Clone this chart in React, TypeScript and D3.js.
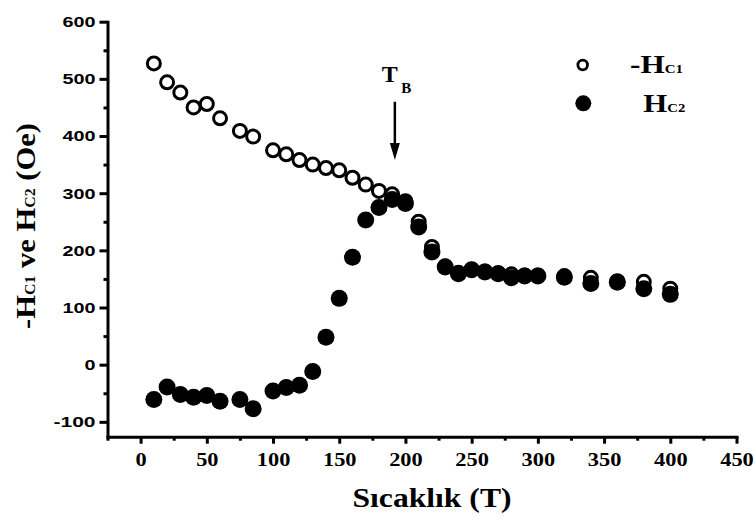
import * as d3 from "d3";
import React, { useEffect, useRef } from "react";

// -Hc1 (open circles)
const tempC1 = [10, 20, 30, 40, 50, 60, 75, 85, 100, 110, 120, 130, 140, 150, 160, 170, 180, 190, 200, 210, 220, 230, 240, 250, 260, 270, 280, 290, 300, 320, 340, 360, 380, 400];
const hc1 = [527, 494, 476, 450, 456, 431, 409, 399, 375, 368, 358, 350, 344, 340, 327, 315, 304, 298, 286, 250, 206, 172, 161, 166, 163, 160, 158, 156, 156, 155, 152, 146, 145, 133];

// Hc2 (filled circles)
const tempC2 = [10, 20, 30, 40, 50, 60, 75, 85, 100, 110, 120, 130, 140, 150, 160, 170, 180, 190, 200, 210, 220, 230, 240, 250, 260, 270, 280, 290, 300, 320, 340, 360, 380, 400];
const hc2 = [-61, -39, -52, -57, -54, -64, -61, -77, -46, -40, -36, -12, 48, 116, 188, 253, 275, 289, 282, 241, 197, 171, 159, 166, 162, 159, 152, 155, 155, 153, 142, 144, 133, 123];

const xMajor = [0, 50, 100, 150, 200, 250, 300, 350, 400, 450];
const xMinor = [-25, 25, 75, 125, 175, 225, 275, 325, 375, 425];
const yMajor = [-100, 0, 100, 200, 300, 400, 500, 600];
const yMinor = [-50, 50, 150, 250, 350, 450, 550];

// T_B arrow: temperature, start value, tip value
const tbTemp = 192;
const tbArrow = [460, 358];

const serif = "'Liberation Serif', 'Times New Roman', serif";
const sans = "'Liberation Sans', Arial, sans-serif";

const x = d3.scaleLinear().domain([-25, 450]).range([107.5, 736.5]);
const y = d3.scaleLinear().domain([-126, 600]).range([436.7, 21.7]);

export default function App() {
  const xRef = useRef<SVGGElement>(null);
  const yRef = useRef<SVGGElement>(null);

  useEffect(() => {
    // x axis: minor ticks, then major ticks with labels
    const gx = d3.select(xRef.current);
    gx.selectAll("*").remove();
    gx.append("g")
      .call(d3.axisBottom(x).tickValues(xMinor).tickSize(4).tickFormat(() => ""))
      .call((g) => g.select(".domain").remove());
    gx.append("g")
      .call(d3.axisBottom(x).tickValues(xMajor).tickSizeInner(7).tickSizeOuter(0).tickPadding(9.5).tickFormat(d3.format("d")));
    gx.selectAll("line").attr("stroke", "#000").attr("stroke-width", 3);
    gx.selectAll(".domain").attr("stroke", "#000").attr("stroke-width", 3).attr("stroke-linecap", "square");
    gx.selectAll("text")
      .attr("font-family", serif)
      .attr("font-weight", "bold")
      .attr("font-size", 18)
      .attr("fill", "#000")
      .attr("lengthAdjust", "spacingAndGlyphs")
      .attr("textLength", function () {
        return (d3.select(this).text().length * 11.2).toString();
      });

    // y axis
    const gy = d3.select(yRef.current);
    gy.selectAll("*").remove();
    gy.append("g")
      .call(d3.axisLeft(y).tickValues(yMinor).tickSize(4).tickFormat(() => ""))
      .call((g) => g.select(".domain").remove());
    gy.append("g")
      .call(d3.axisLeft(y).tickValues(yMajor).tickSizeInner(8).tickSizeOuter(0).tickPadding(4).tickFormat((d) => String(d)));
    gy.selectAll("line").attr("stroke", "#000").attr("stroke-width", 3);
    gy.selectAll(".domain").attr("stroke", "#000").attr("stroke-width", 3).attr("stroke-linecap", "square");
    gy.selectAll("text")
      .attr("font-family", sans)
      .attr("font-weight", "bold")
      .attr("font-size", 15)
      .attr("fill", "#000")
      .attr("lengthAdjust", "spacingAndGlyphs")
      .attr("textLength", function () {
        const s = d3.select(this).text();
        const n = s.replace("-", "").length;
        return (n * 11 + (s.startsWith("-") ? 9 : 0)).toString();
      });
  }, []);

  const ax = x(tbTemp);
  const aTop = y(tbArrow[0]);
  const aTip = y(tbArrow[1]);

  return (
    <svg width={755} height={521} style={{ position: "absolute", left: 0, top: 0, background: "#fff" }}>
      <g ref={yRef} transform={`translate(${x(-25)},0)`} />
      <g ref={xRef} transform={`translate(0,${y(-126)})`} />

      {/* open circles first, filled on top */}
      {tempC1.map((t, i) => (
        <circle key={"o" + i} cx={x(t)} cy={y(hc1[i])} r={6.5} fill="#fff" stroke="#000" strokeWidth={3} />
      ))}
      {tempC2.map((t, i) => (
        <circle key={"f" + i} cx={x(t)} cy={y(hc2[i])} r={8.5} fill="#000" />
      ))}

      {/* T_B annotation */}
      <text x={ax - 13} y={81.7} fontFamily={serif} fontWeight="bold" fontSize={24} fill="#000">T</text>
      <text x={ax + 6.5} y={93} fontFamily={serif} fontWeight="bold" fontSize={15} fill="#000">B</text>
      <line x1={ax} x2={ax} y1={aTop} y2={aTip - 12} stroke="#000" strokeWidth={2.5} />
      <path d={`M${ax - 5},${aTip - 17} L${ax + 5},${aTip - 17} L${ax},${aTip} Z`} fill="#000" />

      {/* legend */}
      <circle cx={582.7} cy={65} r={4.8} fill="#fff" stroke="#000" strokeWidth={2.8} />
      <circle cx={583.3} cy={103.3} r={8} fill="#000" />
      <text x={630} y={73.3} fontFamily={serif} fontWeight="bold" fontSize={25} fill="#000" textLength={53} lengthAdjust="spacingAndGlyphs">
        -H<tspan fontSize={12}>C1</tspan>
      </text>
      <text x={643.3} y={111.7} fontFamily={serif} fontWeight="bold" fontSize={25} fill="#000" textLength={42} lengthAdjust="spacingAndGlyphs">
        H<tspan fontSize={12}>C2</tspan>
      </text>

      {/* axis titles */}
      <text x={432} y={506.7} textAnchor="middle" fontFamily={serif} fontWeight="bold" fontSize={27} fill="#000" textLength={159} lengthAdjust="spacingAndGlyphs">
        Sıcaklık (T)
      </text>
      <text
        transform="translate(35,226) rotate(-90)"
        textAnchor="middle"
        fontFamily={serif}
        fontWeight="bold"
        fontSize={27}
        fill="#000"
        textLength={206}
        lengthAdjust="spacingAndGlyphs"
      >
        -H<tspan fontSize={14}>C1</tspan> ve H<tspan fontSize={14}>C2</tspan> (Oe)
      </text>
    </svg>
  );
}
